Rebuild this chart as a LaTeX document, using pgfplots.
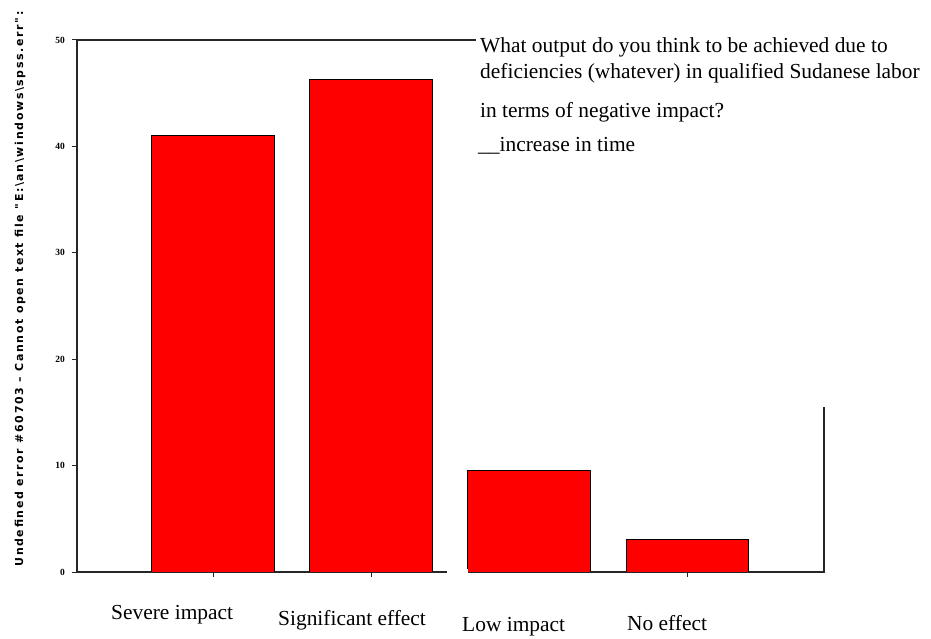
\documentclass[border=0pt]{standalone}
\usepackage{pgfplots}
\pgfplotsset{compat=1.18}
\usepackage{fontspec}
\setmainfont{Liberation Serif}
\newfontfamily\lblfont[LetterSpace=15]{DejaVu Sans}
\begin{document}
\begin{tikzpicture}
\useasboundingbox (0,0) rectangle (931bp,639bp);
\begin{axis}[
  at={(77bp,67bp)}, anchor=south west,
  scale only axis, width=747bp, height=532bp,
  xmin=-0.86, xmax=3.863, ymin=0, ymax=50,
  ybar, bar width=0.777,
  axis line style={line width=1.2bp, black!85},
  ytick={0,10,20,30,40,50},
  xtick={0,1,3}, xticklabels={},
  tick style={line width=1bp, black!85},
  major tick length=5bp,
  tick align=outside,
  tick pos=left,
  /pgf/number format/assume math mode=true,
  yticklabel style={font=\fontsize{9.5}{10}\selectfont\bfseries, inner sep=1bp, xshift=-6bp},
]
\addplot[fill=red, draw=black, line width=1bp] coordinates {(0,41.0) (1,46.3) (2,9.5) (3,3.1)};
\end{axis}
% cover of the frame behind the question box
\fill[white] (476bp,232bp) rectangle (835bp,605bp);
\fill[white] (447bp,64.5bp) rectangle (468bp,69.5bp);
% question text
\begin{scope}[every node/.style={inner sep=0pt, anchor=base west, font=\fontsize{21.5}{24}\selectfont}]
\node at (480bp,586bp) {What output do you think to be achieved due to};
\node at (480bp,560bp) {deficiencies (whatever) in qualified Sudanese labor};
\node at (480bp,521bp) {in terms of negative impact?};
\node at (478bp,487bp) {\_\_increase in time};
% category labels
\node at (111bp,20bp) {Severe impact};
\node at (278bp,14bp) {Significant effect};
\node at (462bp,8bp) {Low impact};
\node at (627bp,9bp) {No effect};
\end{scope}
% y axis label
\node[rotate=90, inner sep=0pt, font=\lblfont\bfseries\fontsize{11}{12}\selectfont] at (20bp,350bp)
  {Undefined error \#60703 \textendash{} Cannot open text file "E:\textbackslash an\textbackslash windows\textbackslash spss.err":};
\end{tikzpicture}
\end{document}
